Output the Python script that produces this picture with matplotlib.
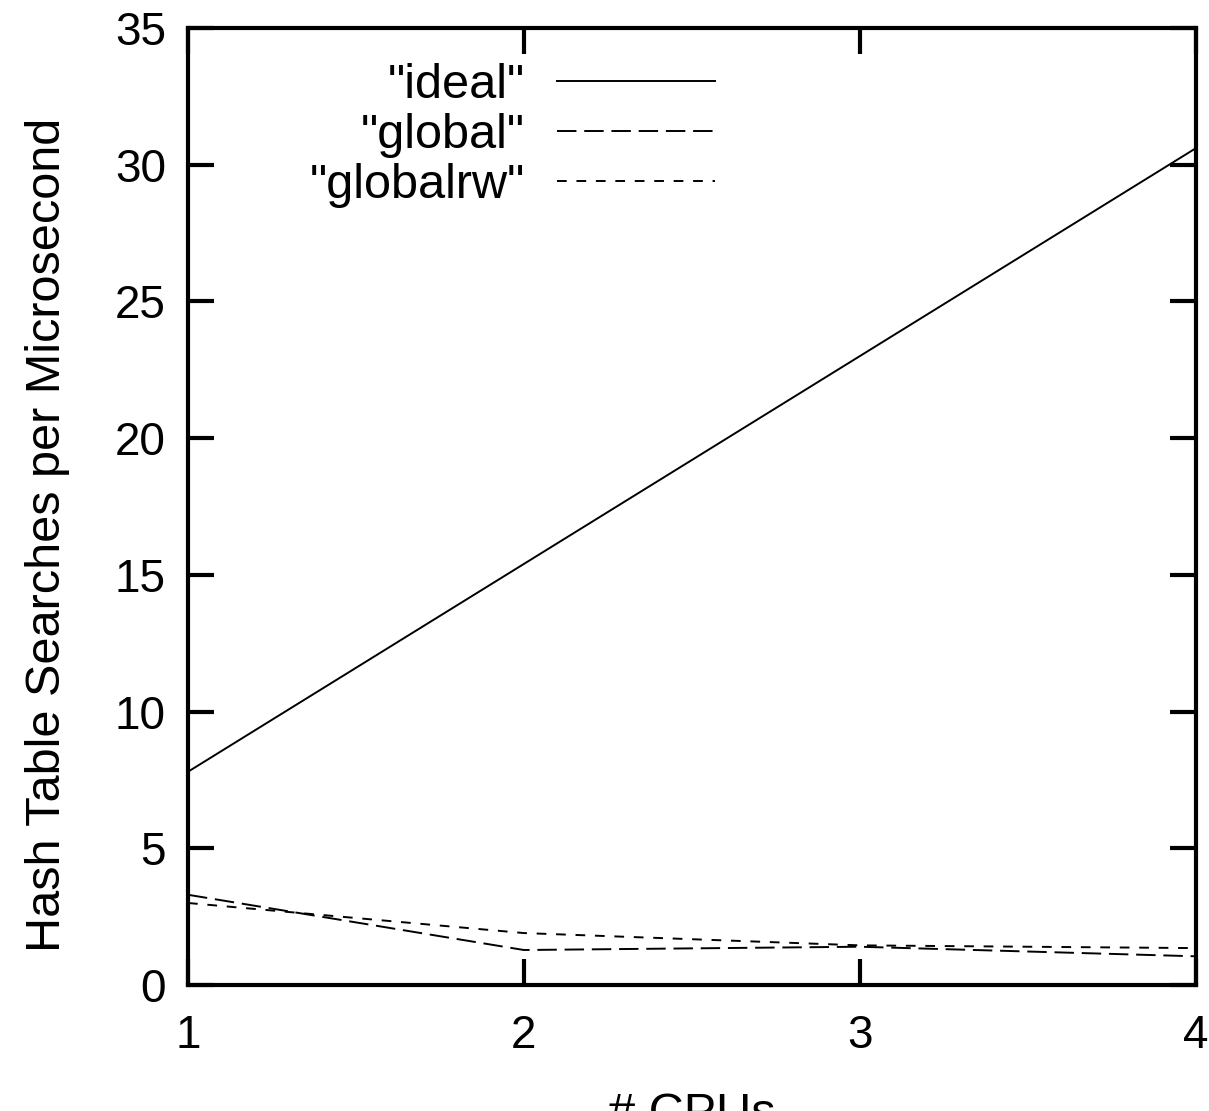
import numpy as np
import matplotlib.pyplot as plt

plt.rcParams['font.family'] = ['Liberation Sans', 'DejaVu Sans']

# Daten
cpus = [1, 2, 3, 4]
ideal = [7.8, 15.4, 23.0, 30.6]
glob = [3.3, 1.28, 1.4, 1.05]
globalrw = [3.0, 1.9, 1.45, 1.35]

fig = plt.figure(figsize=(12.09, 11.11), dpi=100)
ax = fig.add_axes([0.1555, 0.1134, 0.8335, 0.8614])

ax.plot(cpus, ideal, color='black', lw=1.4, label='"ideal"')
ax.plot(cpus, glob, color='black', lw=1.4, dashes=(10, 4), label='"global"')
ax.plot(cpus, globalrw, color='black', lw=1.4, dashes=(5, 5), label='"globalrw"')

ax.set_xlim(1, 4)
ax.set_ylim(0, 35)
ax.set_xticks([1, 2, 3, 4])
ax.set_yticks(np.arange(0, 36, 5))
ax.tick_params(direction='in', length=19, width=3, labelsize=33,
               top=True, right=True)
ax.tick_params(axis='x', pad=21)
ax.tick_params(axis='y', pad=16)
for sp in ax.spines.values():
    sp.set_linewidth(3)

ax.set_xlabel('# CPUs', fontsize=35, labelpad=24)
ax.set_ylabel('Hash Table Searches per Microsecond', fontsize=35)
ax.yaxis.set_label_coords(-0.117, 0.47)

leg = ax.legend(loc='upper right', bbox_to_anchor=(715 / 1209, 1 - 63 / 1111),
                bbox_transform=fig.transFigure, frameon=False, markerfirst=False,
                fontsize=35, handlelength=3.25, handletextpad=0.66,
                labelspacing=0.1, borderpad=0, borderaxespad=0)
for t in leg.get_texts():
    t.set_ha('right')

fig.savefig('out.png', dpi=100)
